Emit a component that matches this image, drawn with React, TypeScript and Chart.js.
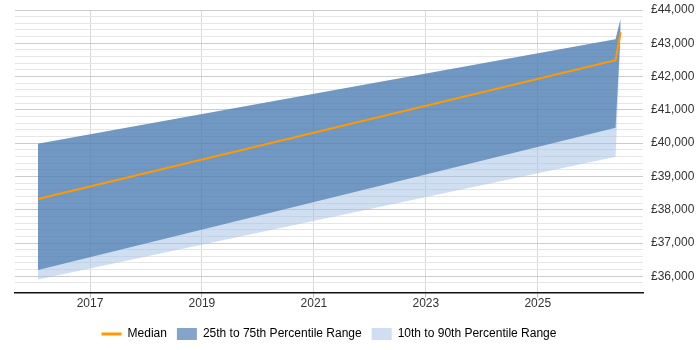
import React, { useEffect, useRef } from "react";
import { Chart, registerables } from "chart.js";

Chart.register(...registerables);

// Decimal years of the data points
const years = [2016.07, 2026.39, 2026.48];
const median = [38320, 42490, 43330];
const p75 = [39985, 43120, 43740];
const p25 = [36190, 40465, 43300];
const p90 = [39985, 43120, 43740];
const p10 = [35900, 39595, 43300];

const xTickYears = [2017, 2019, 2021, 2023, 2025];
const yMajorStep = 1000;
const yMinorStep = 200;
const yFirstGrid = 35800;

const legendLabels = [
  "Median",
  "25th to 75th Percentile Range",
  "10th to 90th Percentile Range",
];

const X_MIN = 2015.66;
const X_MAX = 2026.88;
const Y_MIN = 35510;
const Y_MAX = 44000;

const ORANGE = "#ff9900";
const DARK = "rgba(50,105,165,0.6)";
const LIGHT = "rgba(160,190,225,0.5)";

const pts = (vals: number[]) => vals.map((v, i) => ({ x: years[i], y: v }));

const centerLegend = {
  id: "centerLegend",
  afterLayout(chart: any) {
    const lg = chart.legend;
    const ca = chart.chartArea;
    if (lg && ca) {
      lg.left = ca.left;
      lg.right = ca.right;
      lg.width = ca.right - ca.left;
    }
  },
};

export default function App() {
  const ref = useRef<HTMLCanvasElement | null>(null);

  useEffect(() => {
    document.body.style.margin = "0";
    Chart.defaults.font.family = "Arial, 'Liberation Sans', sans-serif";
    Chart.defaults.font.size = 12;
    Chart.defaults.color = "#333";
    const ctx = ref.current!.getContext("2d")!;
    const chart = new Chart(ctx, {
      type: "line",
      data: {
        datasets: [
          {
            label: legendLabels[0],
            data: pts(median),
            borderColor: ORANGE,
            borderWidth: 2,
            pointRadius: 0,
            fill: false,
            tension: 0,
          },
          {
            label: legendLabels[1],
            data: pts(p75),
            borderWidth: 0,
            borderColor: "rgba(0,0,0,0)",
            backgroundColor: DARK,
            pointRadius: 0,
            fill: "+1",
            tension: 0,
          },
          {
            label: "p25",
            data: pts(p25),
            borderWidth: 0,
            borderColor: "rgba(0,0,0,0)",
            pointRadius: 0,
            fill: false,
            tension: 0,
          },
          {
            label: legendLabels[2],
            data: pts(p90),
            borderWidth: 0,
            borderColor: "rgba(0,0,0,0)",
            backgroundColor: LIGHT,
            pointRadius: 0,
            fill: "+1",
            tension: 0,
          },
          {
            label: "p10",
            data: pts(p10),
            borderWidth: 0,
            borderColor: "rgba(0,0,0,0)",
            pointRadius: 0,
            fill: false,
            tension: 0,
          },
        ],
      },
      options: {
        animation: false,
        responsive: false,
        maintainAspectRatio: false,
        layout: { padding: { left: 15, right: 0, top: 10, bottom: 0 } },
        plugins: {
          tooltip: { enabled: false },
          legend: {
            position: "bottom",
            labels: {
              usePointStyle: true,
              pointStyleWidth: 20,
              boxHeight: 12,
              padding: 10,
              color: "#333",
              font: { size: 12 },
              generateLabels: () => [
                {
                  text: legendLabels[0],
                  fillStyle: ORANGE,
                  strokeStyle: ORANGE,
                  lineWidth: 3,
                  pointStyle: "line",
                  hidden: false,
                  datasetIndex: 0,
                } as any,
                {
                  text: legendLabels[1],
                  fillStyle: DARK,
                  strokeStyle: DARK,
                  lineWidth: 0,
                  pointStyle: "rect",
                  hidden: false,
                  datasetIndex: 1,
                } as any,
                {
                  text: legendLabels[2],
                  fillStyle: LIGHT,
                  strokeStyle: LIGHT,
                  lineWidth: 0,
                  pointStyle: "rect",
                  hidden: false,
                  datasetIndex: 3,
                } as any,
              ],
            },
            onClick: () => {},
          },
        },
        scales: {
          x: {
            type: "linear",
            min: X_MIN,
            max: X_MAX,
            afterBuildTicks: (scale: any) => {
              scale.ticks = xTickYears.map((v) => ({ value: v }));
            },
            afterFit: (scale: any) => {
              scale.height += 8;
            },
            grid: {
              color: "#d9d9d9",
              drawTicks: true,
              tickLength: 5,
              tickColor: "#bbb",
            },
            border: { display: true, color: "#111", width: 1.5 },
            ticks: {
              padding: -1,
              color: "#333",
              font: { size: 12 },
              callback: (v: any) => String(v),
            },
          },
          y: {
            type: "linear",
            position: "right",
            min: Y_MIN,
            max: Y_MAX,
            afterBuildTicks: (scale: any) => {
              const t: any[] = [];
              for (let v = yFirstGrid; v <= Y_MAX; v += yMinorStep) t.push({ value: v });
              scale.ticks = t;
            },
            afterFit: (scale: any) => {
              scale.width = 57;
              scale.paddingTop = 0;
              scale.paddingBottom = 0;
            },
            grid: {
              drawTicks: false,
              color: (c: any) =>
                c.tick && c.tick.value % yMajorStep === 0 ? "#cccccc" : "#e6e6e6",
            },
            border: { display: false },
            ticks: {
              padding: 8,
              color: "#333",
              font: { size: 12 },
              autoSkip: false,
              callback: (v: any) =>
                v % yMajorStep === 0 ? "£" + Number(v).toLocaleString("en-GB") : "",
            },
          },
        },
      },
      plugins: [centerLegend],
    });
    return () => chart.destroy();
  }, []);

  return (
    <div style={{ width: 700, height: 350 }}>
      <canvas ref={ref} width={700} height={350} />
    </div>
  );
}
